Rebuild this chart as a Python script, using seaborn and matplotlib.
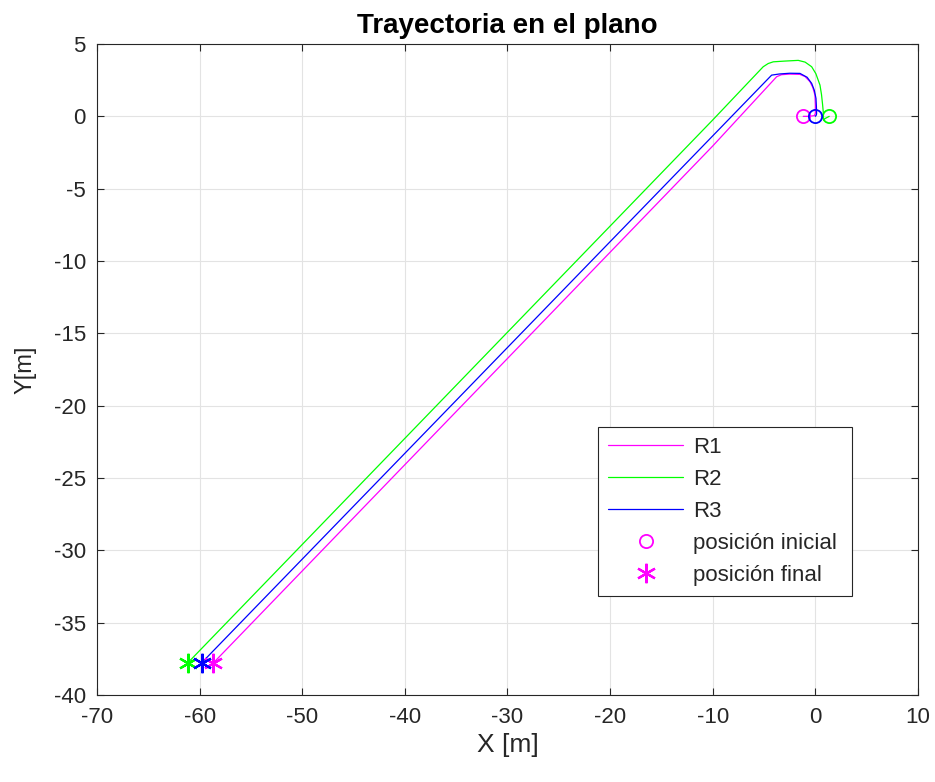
import numpy as np
import pandas as pd
import matplotlib
matplotlib.use("Agg")
import matplotlib.pyplot as plt
import seaborn as sns
from matplotlib.lines import Line2D

# Data
r1_x = [-1.18, -0.6, -0.1, 0.0, 0.0, -0.04, -0.25, -0.53, -1.0, -1.5, -2.5, -3.3, -3.77, -10.0, -58.65]
r1_y = [0.0, 0.0, 0.05, 0.2, 0.8, 1.47, 2.0, 2.4, 2.75, 2.9, 2.92, 2.88, 2.74, -2.05, -37.78]
r2_x = [1.35, 0.95, 0.8, 0.77, 0.71, 0.6, 0.45, 0.05, -0.36, -1.0, -1.67, -3.0, -4.1, -4.6, -5.08, -10.0, -61.15]
r2_y = [0.0, -0.15, -0.26, 0.3, 0.78, 1.5, 2.16, 2.95, 3.43, 3.75, 3.87, 3.82, 3.77, 3.65, 3.43, -0.25, -37.78]
r3_x = [0.0, 0.1, 0.12, 0.1, 0.06, -0.1, -0.36, -0.8, -1.5, -2.5, -3.5, -4.26, -10.0, -59.8]
r3_y = [0.0, 0.1, 0.2, 0.7, 1.24, 1.8, 2.28, 2.7, 2.97, 2.98, 2.93, 2.85, -1.35, -37.78]

series_names = ["R1", "R2", "R3"]
series_colors = ["#ff00ff", "#00ff00", "#0000ff"]
title = "Trayectoria en el plano"
xlabel = "X [m]"
ylabel = "Y[m]"
xticks = list(range(-70, 11, 10))
yticks = list(range(-40, 6, 5))

frames = []
for name, xs, ys in zip(series_names, [r1_x, r2_x, r3_x], [r1_y, r2_y, r3_y]):
    frames.append(pd.DataFrame({"x": xs, "y": ys, "robot": name, "order": range(len(xs))}))
df = pd.concat(frames, ignore_index=True)

sns.set_style("white")
plt.rcParams["font.family"] = ["Liberation Sans", "DejaVu Sans"]
plt.rcParams["axes.unicode_minus"] = False

fig = plt.figure(figsize=(9.35, 7.82), dpi=100)
ax = fig.add_axes([0.1037, 0.1113, 0.8781, 0.8324])

sns.lineplot(data=df, x="x", y="y", hue="robot", palette=dict(zip(series_names, series_colors)),
             sort=False, estimator=None, units="robot", linewidth=0.9, ax=ax, legend=False)

star = (6, 2, 0)
for name, xs, ys, c in zip(series_names, [r1_x, r2_x, r3_x], [r1_y, r2_y, r3_y], series_colors):
    ax.plot(xs[0], ys[0], marker="o", ms=9.5, mfc="none", mec=c, mew=1.3, ls="none")
    ax.plot(xs[-1], ys[-1], marker=star, ms=14, mec=c, mew=1.6, ls="none")

ax.set_xlim(-70, 10)
ax.set_ylim(-40, 5)
ax.set_xticks(xticks)
ax.set_yticks(yticks)
ax.grid(True, color="#e3e3e3", linewidth=0.8)
ax.set_axisbelow(True)
axc = "#262626"
for s in ax.spines.values():
    s.set_color(axc)
    s.set_linewidth(0.8)
    s.set_visible(True)
ax.tick_params(direction="in", length=5, width=0.8, colors=axc, labelsize=16,
               top=True, right=True, bottom=True, left=True, labelcolor="#262626")
ax.tick_params(axis="x", pad=9)
ax.tick_params(axis="y", pad=8)
ax.set_xlabel(xlabel, fontsize=19, color="#262626", labelpad=3)
ax.set_ylabel(ylabel, fontsize=17, color="#262626", labelpad=12)
ax.set_title(title, fontsize=20, fontweight="bold", color="black", pad=8)

handles = [Line2D([], [], color=c, lw=0.9) for c in series_colors]
handles.append(Line2D([], [], marker="o", ms=9.5, mfc="none", mec=series_colors[0], mew=1.3, ls="none"))
handles.append(Line2D([], [], marker=star, ms=14, mec=series_colors[0], mew=1.6, ls="none"))
labels = series_names + ["posición inicial", "posición final"]
leg = ax.legend(handles, labels, loc="lower left", bbox_to_anchor=(0.610, 0.152, 0.31, 0.255),
                mode="expand", fontsize=16, frameon=True, fancybox=False, framealpha=1,
                edgecolor="#262626", handlelength=3.4, borderaxespad=0, labelspacing=0.5,
                borderpad=0.45, handletextpad=0.45)
leg.get_frame().set_linewidth(0.8)

fig.savefig("out.png", dpi=100)
